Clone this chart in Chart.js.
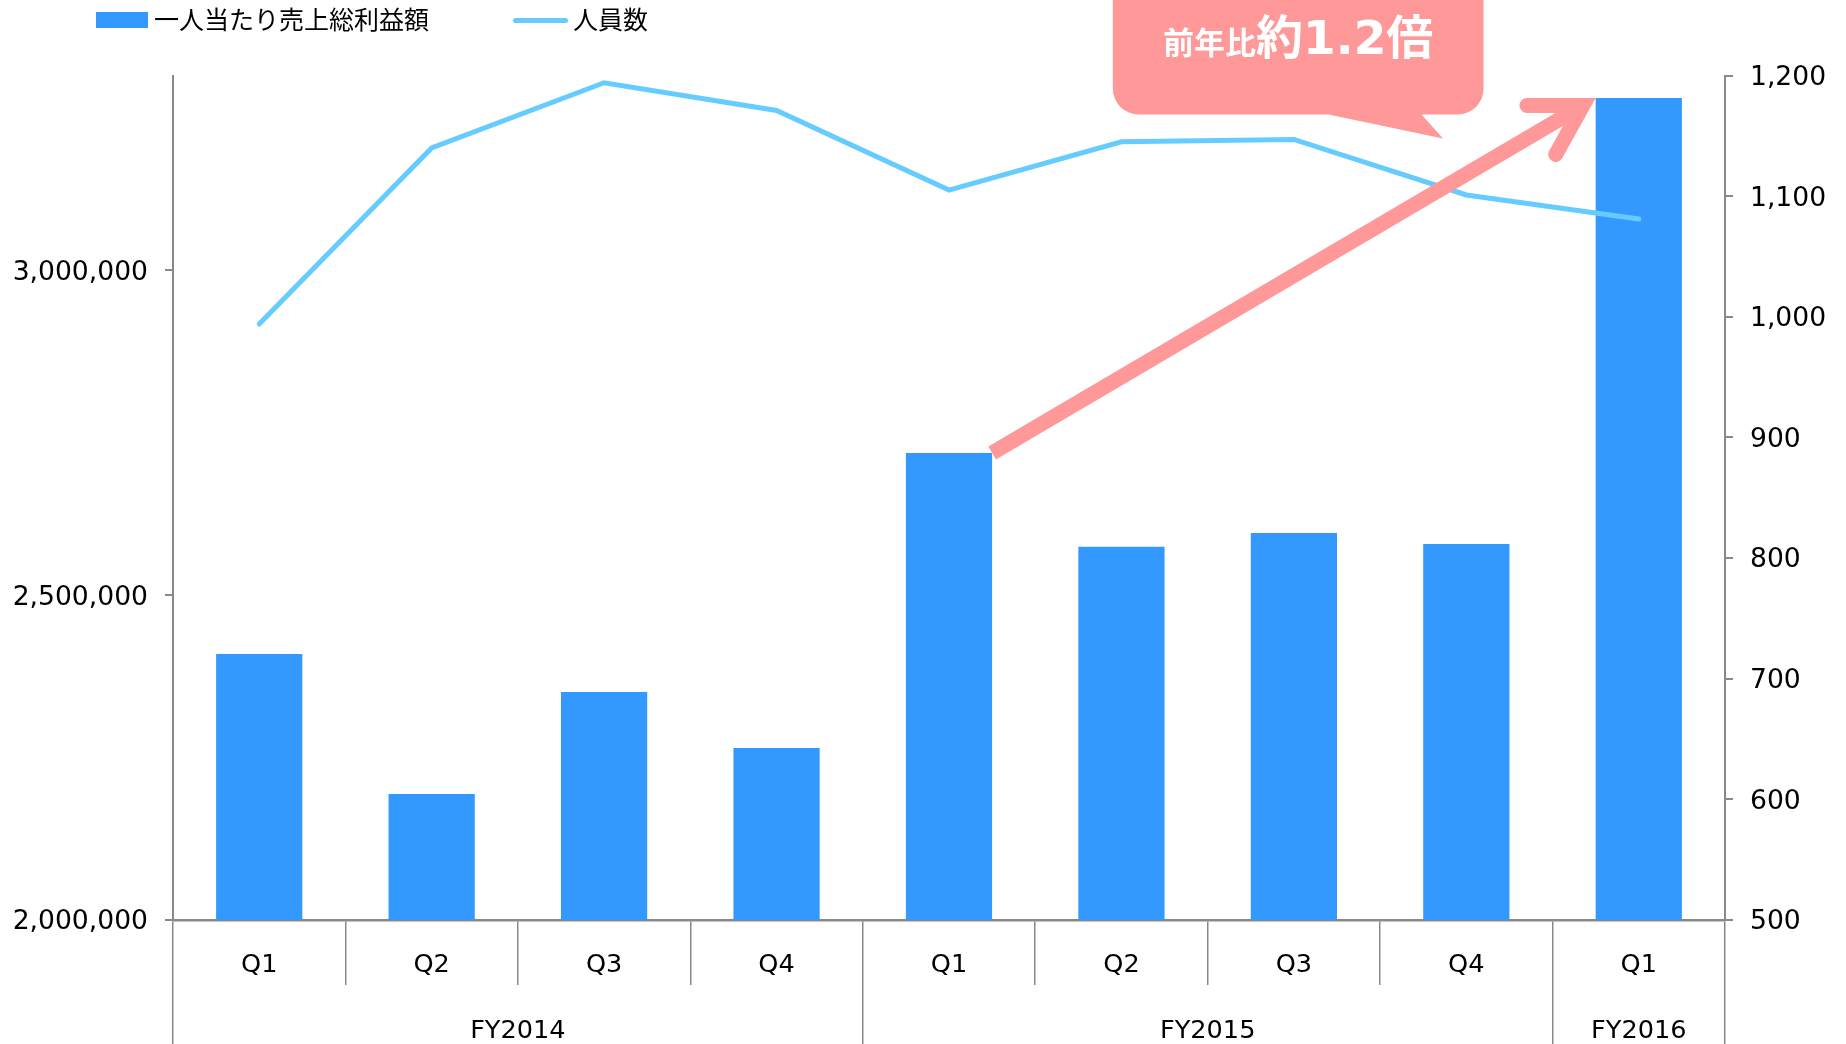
<!DOCTYPE html>
<html>
<head>
<meta charset="utf-8">
<script src="https://cdn.jsdelivr.net/npm/chart.js@4/dist/chart.umd.min.js"></script>
<style>
  html, body { margin: 0; padding: 0; background: #ffffff; }
  #wrap { position: relative; width: 1846px; height: 1044px; overflow: hidden; }
  #c { position: absolute; left: 0; top: 0; }
  #legend { position: absolute; left: 96px; top: 0; height: 40px; display: flex; align-items: center;
            font-family: "Noto Sans CJK JP", sans-serif; font-size: 25px; color: #000; white-space: nowrap; }
  .item { display: flex; align-items: center; }
  .item .tx { position: relative; top: -2px; }
  .sw-bar { display: inline-block; width: 52px; height: 16px; margin-right: 6px; }
  .sw-line { display: inline-block; width: 55px; height: 5px; border-radius: 3px; margin-right: 5px; }
</style>
</head>
<body>
<div id="wrap">
  <canvas id="c" width="1846" height="1044"></canvas>
  <div id="legend"></div>
</div>
<script>
// ---------------- data ----------------
const quarterLabels = ['Q1', 'Q2', 'Q3', 'Q4', 'Q1', 'Q2', 'Q3', 'Q4', 'Q1'];
const fiscalYears = ['FY2014', 'FY2015', 'FY2016'];
const quartersPerYear = [4, 4, 1];
const grossProfitPerPerson = [2409500, 2194000, 2351000, 2264800, 2718900, 2574700, 2595800, 2578800, 3265400];
const headcount = [994, 1140, 1194, 1171, 1105, 1145, 1147, 1101, 1081];
const leftTicks = [2000000, 2500000, 3000000];
const rightTicks = [500, 600, 700, 800, 900, 1000, 1100, 1200];
const seriesNames = ['一人当たり売上総利益額', '人員数'];
const calloutParts = ['前年比', '約1.2倍'];

// ---------------- styles ----------------
const BAR = '#3399FF';
const LINE = '#66CCFF';
const PINK = '#FF9999';
const GRAY = '#898989';
const FONT = '"DejaVu Sans", "Noto Sans CJK JP", sans-serif';

// FY axis ticks: boundaries + group centres
const fyBoundaries = [];
const fyCenters = new Map();
(function () {
  let start = -0.5;
  fyBoundaries.push(start);
  quartersPerYear.forEach((n, i) => {
    fyCenters.set(start + n / 2, fiscalYears[i]);
    start += n;
    fyBoundaries.push(start);
  });
})();

// callout placement (category index units on x, right-axis units on y)
const callout = { x0: 4.95, x1: 7.1, yBottom: 1167.6, radius: 26,
                  tailBase0: 6.2, tailBase1: 6.74, tailTipX: 6.865, tailTipY: 1147.8,
                  textY: 1218.2, smallSize: 31, bigSize: 47 };
const arrow = { fromBar: 4, toBar: 8, width: 15, headLength: 56, headAngle: 30.5 };

const htmlLegend = {
  id: 'htmlLegend',
  afterUpdate(chart) {
    const el = document.getElementById('legend');
    el.innerHTML = '';
    chart.data.datasets.forEach((ds, i) => {
      const item = document.createElement('div');
      item.className = 'item';
      if (i > 0) item.style.marginLeft = '84px';
      const sw = document.createElement('span');
      sw.className = ds.type === 'line' ? 'sw-line' : 'sw-bar';
      sw.style.background = ds.type === 'line' ? ds.borderColor : ds.backgroundColor;
      const tx = document.createElement('span');
      tx.className = 'tx';
      tx.textContent = ds.label;
      item.append(sw, tx);
      el.append(item);
    });
  }
};

const annotations = {
  id: 'annotations',
  afterDatasetsDraw(chart) {
    const { ctx, scales: { x, y1 } } = chart;
    ctx.save();
    // speech bubble
    const L = x.getPixelForValue(callout.x0), R = x.getPixelForValue(callout.x1);
    const B = y1.getPixelForValue(callout.yBottom), T = -60, r = callout.radius;
    ctx.fillStyle = PINK;
    ctx.beginPath();
    ctx.moveTo(L, T);
    ctx.lineTo(R, T);
    ctx.lineTo(R, B - r);
    ctx.arcTo(R, B, R - r, B, r);
    ctx.lineTo(x.getPixelForValue(callout.tailBase1), B);
    ctx.lineTo(x.getPixelForValue(callout.tailTipX), y1.getPixelForValue(callout.tailTipY));
    ctx.lineTo(x.getPixelForValue(callout.tailBase0), B);
    ctx.lineTo(L + r, B);
    ctx.arcTo(L, B, L, B - r, r);
    ctx.closePath();
    ctx.fill();

    // callout text
    const cx = (L + R) / 2;
    const by = y1.getPixelForValue(callout.textY);
    const f1 = 'bold ' + callout.smallSize + 'px ' + FONT;
    const f2 = 'bold ' + callout.bigSize + 'px ' + FONT;
    ctx.font = f1; const w1 = ctx.measureText(calloutParts[0]).width;
    ctx.font = f2; const w2 = ctx.measureText(calloutParts[1]).width;
    const sx = cx - (w1 + w2) / 2;
    ctx.fillStyle = '#ffffff';
    ctx.textAlign = 'left';
    ctx.textBaseline = 'alphabetic';
    ctx.font = f1; ctx.fillText(calloutParts[0], sx, by);
    ctx.font = f2; ctx.fillText(calloutParts[1], sx + w1, by);

    // arrow between bar tops
    const bars = chart.getDatasetMeta(0).data;
    const a = bars[arrow.fromBar].getProps(['x', 'y', 'width'], true);
    const b = bars[arrow.toBar].getProps(['x', 'y', 'width'], true);
    const S = { x: a.x + a.width / 2, y: a.y };
    const P = { x: b.x - b.width / 2, y: b.y };
    const dx = P.x - S.x, dy = P.y - S.y, len = Math.hypot(dx, dy);
    const ux = dx / len, uy = dy / len;
    const half = arrow.headAngle * Math.PI / 180;
    const back = (arrow.width / 2) / Math.sin(half);
    const J = { x: P.x - back * ux, y: P.y - back * uy };
    ctx.strokeStyle = PINK;
    ctx.lineWidth = arrow.width;
    ctx.lineCap = 'butt';
    ctx.beginPath(); ctx.moveTo(S.x, S.y); ctx.lineTo(J.x, J.y); ctx.stroke();
    const ang = Math.atan2(-uy, -ux), hl = arrow.headLength;
    ctx.lineCap = 'round'; ctx.lineJoin = 'miter'; ctx.miterLimit = 10;
    ctx.beginPath();
    ctx.moveTo(J.x + hl * Math.cos(ang + half), J.y + hl * Math.sin(ang + half));
    ctx.lineTo(J.x, J.y);
    ctx.lineTo(J.x + hl * Math.cos(ang - half), J.y + hl * Math.sin(ang - half));
    ctx.stroke();
    ctx.restore();
  }
};

new Chart(document.getElementById('c'), {
  type: 'bar',
  data: {
    labels: quarterLabels,
    datasets: [
      { type: 'bar', label: seriesNames[0], data: grossProfitPerPerson, yAxisID: 'y', xAxisID: 'x',
        backgroundColor: BAR, barPercentage: 0.5, categoryPercentage: 1.0, order: 1 },
      { type: 'line', label: seriesNames[1], data: headcount, yAxisID: 'y1', xAxisID: 'x',
        borderColor: LINE, backgroundColor: LINE, borderWidth: 5, pointRadius: 0, pointHoverRadius: 0,
        borderCapStyle: 'round', borderJoinStyle: 'miter', tension: 0, fill: false, order: 0 }
    ]
  },
  options: {
    responsive: false,
    animation: false,
    events: [],
    layout: { padding: { top: 75.5, left: 0, right: 0, bottom: 0 } },
    plugins: { legend: { display: false }, tooltip: { enabled: false } },
    scales: {
      x: {
        type: 'category', position: 'bottom', weight: 1, offset: true,
        grid: { offset: true, drawOnChartArea: false, drawTicks: true, tickLength: 65, color: GRAY, lineWidth: 1.5 },
        border: { display: true, color: GRAY, width: 2.5 },
        ticks: { font: { family: FONT, size: 25.6 }, color: '#000', padding: -35, maxRotation: 0, autoSkip: false },
        afterFit: s => { s.height = 65; }
      },
      fy: {
        type: 'linear', position: 'bottom', weight: 2, min: -0.5, max: 8.5, offset: false, beginAtZero: false,
        afterBuildTicks: s => {
          const vals = [...fyBoundaries, ...fyCenters.keys()].sort((p, q) => p - q);
          s.ticks = vals.map(v => ({ value: v }));
        },
        grid: { offset: false, drawOnChartArea: false, drawTicks: true, tickLength: 59, lineWidth: 1.5,
                color: c => (c.tick && fyBoundaries.includes(c.tick.value)) ? GRAY : 'rgba(0,0,0,0)' },
        border: { display: false },
        ticks: { font: { family: FONT, size: 25.6 }, color: '#000', padding: -28.5, maxRotation: 0, autoSkip: false,
                 callback: v => fyCenters.get(v) || '' },
        afterFit: s => { s.height = 59; }
      },
      y: {
        type: 'linear', position: 'left', min: 2000000, max: 3300000,
        afterBuildTicks: s => { s.ticks = leftTicks.map(v => ({ value: v })); },
        grid: { drawOnChartArea: false, drawTicks: true, tickLength: 8, color: GRAY, lineWidth: 2 },
        border: { display: true, color: GRAY, width: 2 },
        ticks: { font: { family: FONT, size: 26.6 }, color: '#000', padding: 17, labelOffset: 2.5,
                 callback: v => Number(v).toLocaleString('en-US') },
        afterFit: s => { s.width = 173; }
      },
      y1: {
        type: 'linear', position: 'right', min: 500, max: 1200,
        afterBuildTicks: s => { s.ticks = rightTicks.map(v => ({ value: v })); },
        grid: { drawOnChartArea: false, drawTicks: true, tickLength: 8, color: GRAY, lineWidth: 2 },
        border: { display: true, color: GRAY, width: 2 },
        ticks: { font: { family: FONT, size: 26.6 }, color: '#000', padding: 17, labelOffset: 2.5,
                 callback: v => Number(v).toLocaleString('en-US') },
        afterFit: s => { s.width = 121; }
      }
    }
  },
  plugins: [htmlLegend, annotations]
});
</script>
</body>
</html>
